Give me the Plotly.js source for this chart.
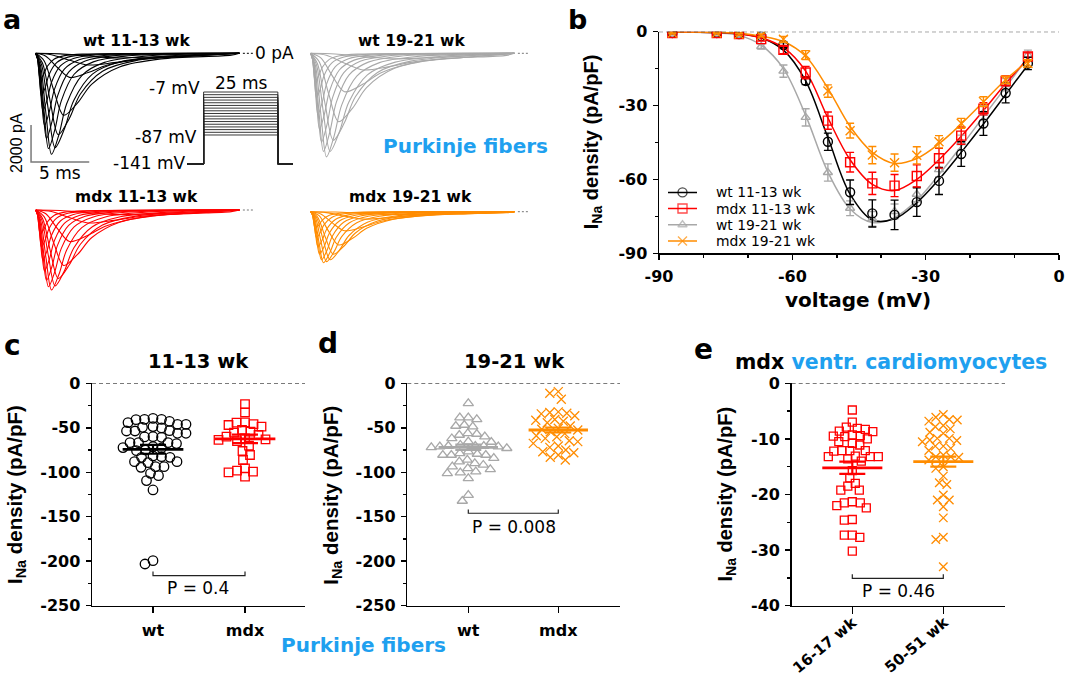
<!DOCTYPE html>
<html><head><meta charset="utf-8">
<script src="https://cdn.plot.ly/plotly-3.0.1.min.js"></script>
<style>body{margin:0;background:#fff}#plot{width:1065px;height:680px}</style>
</head><body><div id="plot"></div>
<script>
// ================= DATA =================
// Panel a: voltage protocol steps (mV) and example current traces
const protocolSteps = [-87,-82,-77,-72,-67,-62,-57,-52,-47,-42,-37,-32,-27,-22,-17,-12,-7];
const protocolHold = -141;
const protocolDurMs = 25;
const traceVoltages = [-67,-62,-57,-52,-47,-42,-37,-32,-27,-22,-17,-12,-7];
const tracePeakTimeMs = [7.0,4.5,2.9,2.4,1.94,1.67,1.36,1.1,0.93,0.76,0.62,0.5,0.4];
const traceHalfDecayMs = [6.0,4.5,3.2,2.4,1.9,1.6,1.3,1.1,0.95,0.85,0.75,0.65,0.6];
const ampWt1113 = [250,630,1300,3350,4400,5100,5460,5150,4600,3900,3100,2300,1400];
const ampWt1921 = [300,900,2080,3700,4700,5300,5600,5300,4800,4100,3300,2400,1500];
const ampMdx1113 = [250,700,1700,3000,3700,4100,4320,4150,3800,3300,2700,2000,1300];
const ampMdx1921 = [150,400,1030,1800,2300,2600,2700,2760,2600,2300,1900,1400,900];
// normalised shape (fraction of peak time / of half-decay time)
const riseFrac = [0,0.3,0.65,1];
const riseVal  = [0,0.12,0.6,1];
const decayMult = [0.5,1,2,3.5,6];
const decayVal  = [0.8,0.5,0.22,0.09,0.03];
const traceEndMs = 17.5;

// Panel b: I-V relationship
const ivVoltage = [-87,-77,-72,-67,-62,-57,-52,-47,-42,-37,-32,-27,-22,-17,-12,-7];
const wt1113Mean  = [-0.5,-0.5,-1,-1.8,-5.4,-20,-44.7,-65.2,-73.8,-74.4,-69.2,-60.6,-49.7,-37.3,-24.9,-12.9];
const wt1113Sem   = [0.3,0.3,0.4,0.6,1,1.5,3.5,5,5.5,6,5.8,5.5,5,4.8,4,2.5];
const mdx1113Mean = [-0.5,-0.5,-1,-3,-7.4,-16.6,-36.1,-53,-61.6,-62.5,-58.6,-51.4,-42.2,-31.3,-20,-10.1];
const mdx1113Sem  = [0.3,0.3,0.4,0.8,1.5,2.5,3.5,4,4.5,4.5,4.5,4,3.5,2.5,2,1.5];
const wt1921Mean  = [-0.5,-1,-1.5,-6,-16,-34.8,-57.2,-71.7,-76,-73,-66,-56,-45,-33,-21.5,-9.5];
const wt1921Sem   = [0.3,0.3,0.5,1,2.5,3.5,3.5,3,3,3,3,3,3,3,2.5,2];
const mdx1921Mean = [-0.5,-0.5,-1,-1.5,-3.1,-9.5,-24.1,-40.2,-50.1,-53.2,-50.2,-44.7,-37.2,-28.4,-19.6,-12.9];
const mdx1921Sem  = [0.3,0.3,0.4,0.6,1.2,1.8,2.5,3,3.5,3.5,3.5,2.5,2,2,1.5,1.5];
const wt1113Fit  = [-0.1,-0.3,-0.8,-2.5,-7.5,-20,-43,-66,-76.5,-76,-69.5,-60,-49,-37.5,-25.5,-13.5];
const mdx1113Fit = [-0.1,-0.3,-0.8,-2.5,-6.5,-16,-35,-52,-62,-64.5,-60,-52,-42.5,-32,-21,-11];
const wt1921Fit  = [-0.1,-0.5,-1.5,-5.5,-15,-34,-57,-72,-77.5,-75.5,-68.5,-58,-46.5,-34.5,-22.5,-10.5];
const mdx1921Fit = [-0.1,-0.2,-0.6,-1.8,-4,-10,-23,-38.5,-49,-53.5,-51.5,-45.5,-37.5,-28.5,-19.5,-12];
const ivLegend = ['wt 11-13 wk','mdx 11-13 wk','wt 19-21 wk','mdx 19-21 wk'];

// Panel c: 11-13 wk Purkinje fibers (pA/pF)
const cCategories = ['wt','mdx'];
const cWt = [-39.4,-40.5,-42.7,-40.9,-40.5,-44.2,-49.5,-46.1,-46.1,-48.7,-50.2,-56.2,-53.6,-53.6,-53.2,-56.2,-60.7,-60.3,-60,-66.7,-67.8,-66.7,-66.7,-71.2,-72.7,-75,-72.3,-75.7,-83.2,-82.5,-81.7,-83.2,-88.1,-89.2,-88.1,-93.7,-94.5,-93.7,-103.8,-101.2,-109.4,-119.9,-199.4,-203.1];
const cMdx = [-23.3,-32.6,-43.9,-44.2,-45.8,-46.9,-48.7,-52.5,-54.4,-55.5,-58.1,-60,-61.9,-63,-63.7,-65,-70.1,-76.1,-80.6,-86.2,-95.6,-98.2,-99.3,-100.1,-104.9];
const cMean = [-74.2,-62.5];
const cSem = [5,4.8];
const cP = 'P = 0.4';
// Panel d: 19-21 wk
const dCategories = ['wt','mdx'];
const dWt = [-22.5,-38.6,-38.6,-40.5,-46.9,-48,-48.7,-56.2,-57,-58.1,-60,-62,-65.6,-66,-69.3,-70.5,-70.5,-70.5,-71.2,-71.2,-72,-73,-76.8,-78.7,-79.5,-80.6,-80.6,-80.6,-84,-86,-88.1,-90,-91.8,-93.7,-95.6,-96.7,-99.3,-100.4,-101.2,-106.8,-125.6,-132.3];
const dMdx = [-9.4,-11.2,-18,-32.1,-32.8,-33.6,-34.4,-36.5,-40.6,-41.6,-42.6,-44.4,-48,-50.6,-51.6,-52.5,-54.3,-56.6,-58.9,-60,-61.9,-64.5,-65.6,-67.5,-70.5,-72,-75,-76.9,-78,-80.6,-83.2,-86.2];
const dMean = [-72,-52.5];
const dSem = [3,2.8];
const dP = 'P = 0.008';
// Panel e: mdx ventricular cardiomyocytes
const eCategories = ['16-17 wk','50-51 wk'];
const eYoung = [-4.8,-7.0,-8.6,-8.3,-8.1,-7.9,-8.7,-9.5,-9.6,-9.4,-9.3,-10.0,-10.5,-10.8,-11.1,-12.2,-12.1,-12.1,-12.1,-13.2,-13.2,-13.2,-13.1,-14.0,-13.6,-15.7,-17.0,-18.0,-18.5,-19.2,-19.2,-21.5,-21.3,-21.5,-22.0,-22.4,-24.6,-24.5,-27.3,-27.3,-27.7,-30.2];
const eOld = [-5.6,-6.1,-7.6,-6.8,-6.6,-6.5,-7.8,-8.2,-8.8,-9.0,-10.3,-10.2,-10.5,-9.9,-9.9,-11.3,-11.3,-11.7,-12.1,-12.9,-13.2,-13.3,-13.2,-13.8,-15.0,-15.3,-16.7,-17.9,-18.2,-20.1,-21.0,-21.0,-22.2,-24.2,-27.7,-28.1,-33.0];
const eMean = [-15.2,-14.1];
const eSem = [1.1,0.9];
const eP = 'P = 0.46';

const ivTicks = [-90,-60,-30,0];
const ivTickText = ['-90','-60','-30','0'];
const pfTicks = [0,-50,-100,-150,-200,-250];
const pfTickText = ['0','-50','-100','-150','-200','-250'];
const cmTicks = [0,-10,-20,-30,-40];
const cmTickText = ['0','-10','-20','-30','-40'];

// ================= STYLE / LAYOUT =================
const W = 1065, H = 680;
const fx = p => p / W, fy = p => 1 - p / H;
const BLACK='#000000', RED='#ff0000', GRAY='#a8a8a8', ORANGE='#ff8c00', BLUE='#1ea0ef';
const FH = 'DejaVu Sans, sans-serif';
const FR = 'Liberation Sans, Arial, sans-serif';

const traces = [];
const shapes = [];
const annotations = [];

function ann(text, x, y, size, o) {
  o = o || {};
  annotations.push(Object.assign({
    text: text, x: fx(x), y: fy(y), xref: 'paper', yref: 'paper',
    xanchor: 'center', yanchor: 'middle', showarrow: false,
    font: {family: o.family || FH, size: size, color: o.color || BLACK}
  }, o.extra || {}));
}

// ---- Panel a traces ----
function addTraceGroup(amps, color, xa, ya, dotColor, lw) {
  amps.forEach((amp, k) => {
    const tp = tracePeakTimeMs[k], hd = traceHalfDecayMs[k];
    const t = [], y = [];
    riseFrac.forEach((r, j) => { t.push(r * tp); y.push(-amp * riseVal[j]); });
    decayMult.forEach((m, j) => { const tt = tp + m * hd; if (tt < traceEndMs - 0.3) { t.push(tt); y.push(-amp * decayVal[j]); } });
    t.push(traceEndMs); y.push(0);
    traces.push({x: t, y: y, xaxis: xa, yaxis: ya, mode: 'lines', type: 'scatter',
      line: {color: color, width: lw, shape: 'spline', smoothing: 0.9}, hoverinfo: 'skip', showlegend: false});
  });
  traces.push({x: [traceEndMs + 0.3, traceEndMs + 1.2], y: [0, 0], xaxis: xa, yaxis: ya, mode: 'lines',
    line: {color: dotColor, width: 1, dash: '2px,2px'}, showlegend: false, hoverinfo: 'skip'});
}
addTraceGroup(ampWt1113, BLACK, 'x', 'y', BLACK, 1.1);
addTraceGroup(ampWt1921, GRAY, 'x2', 'y2', '#777', 1.1);
addTraceGroup(ampMdx1113, RED, 'x3', 'y3', '#777', 1.1);
addTraceGroup(ampMdx1921, ORANGE, 'x4', 'y4', '#777', 1.1);
// scale bar (5 ms, 2000 pA)
traces.push({x: [-0.4, -0.4, 4.6], y: [-3876, -3876 - 2000, -3876 - 2000], xaxis: 'x', yaxis: 'y', mode: 'lines',
  line: {color: '#7a7a7a', width: 1.5}, showlegend: false, hoverinfo: 'skip'});
// protocol
protocolSteps.forEach(v => {
  traces.push({x: [-5.42, 0, 0, protocolDurMs, protocolDurMs, 30.07], y: [protocolHold, protocolHold, v, v, protocolHold, protocolHold],
    xaxis: 'x5', yaxis: 'y5', mode: 'lines', line: {color: '#222', width: 0.9}, showlegend: false, hoverinfo: 'skip'});
});

// ---- Panel b ----
const ivSeries = [
  {m: wt1921Mean, s: wt1921Sem, f: wt1921Fit, c: GRAY, sym: 'triangle-up-open', sz: 8},
  {m: wt1113Mean, s: wt1113Sem, f: wt1113Fit, c: BLACK, sym: 'circle-open', sz: 9},
  {m: mdx1113Mean, s: mdx1113Sem, f: mdx1113Fit, c: RED, sym: 'square-open', sz: 9},
  {m: mdx1921Mean, s: mdx1921Sem, f: mdx1921Fit, c: ORANGE, sym: 'x-thin-open', sz: 9},
];
ivSeries.forEach(sr => {
  traces.push({x: ivVoltage, y: sr.f, xaxis: 'x6', yaxis: 'y6', mode: 'lines',
    line: {color: sr.c, width: 1.5, shape: 'spline', smoothing: 1}, showlegend: false, hoverinfo: 'skip'});
});
ivSeries.forEach(sr => {
  traces.push({x: ivVoltage, y: sr.m, xaxis: 'x6', yaxis: 'y6', mode: 'markers',
    marker: {symbol: sr.sym, size: sr.sz, color: sr.c, line: {color: sr.c, width: 1.4}},
    error_y: {type: 'data', array: sr.s, visible: true, color: sr.c, thickness: 1.4, width: 4},
    showlegend: false, hoverinfo: 'skip'});
});
// manual legend for panel b
const legStyle = [
  {c: BLACK, sym: 'circle-open', sz: 9},
  {c: RED, sym: 'square-open', sz: 9},
  {c: GRAY, sym: 'triangle-up-open', sz: 8},
  {c: ORANGE, sym: 'x-thin-open', sz: 9},
];
const legRowsPx = [192.4, 208.6, 224.7, 240.9];
ivLegend.forEach((name, i) => {
  const st = legStyle[i];
  traces.push({x: [0, 0.5, 1], y: [i, i, i], xaxis: 'x7', yaxis: 'y7', mode: 'lines+markers',
    line: {color: st.c, width: 1.5},
    marker: {symbol: st.sym, size: [0, st.sz, 0], color: st.c, line: {color: st.c, width: 1.4}},
    showlegend: false, hoverinfo: 'skip'});
  ann(name, 714, legRowsPx[i], 13.9, {extra: {xanchor: 'left'}});
});

// ---- Panels c, d, e: swarm scatter ----
function swarm(vals, pxPerVal, minDist) {
  const order = vals.map((v, i) => i).sort((a, b) => vals[b] - vals[a]);
  const placed = [], off = new Array(vals.length);
  order.forEach(i => {
    const y = vals[i] * pxPerVal;
    let best = 0;
    for (let k = 0; k < 600; k++) {
      const cand = (k % 2 === 0 ? 1 : -1) * Math.ceil(k / 2) * 0.5;
      if (placed.every(p => (p.x - cand) * (p.x - cand) + (p.y - y) * (p.y - y) >= minDist * minDist)) { best = cand; break; }
    }
    placed.push({x: best, y: y});
    off[i] = best;
  });
  return off;
}
function addScatter(vals, cat, pxPerVal, pxPerCat, color, sym, size, minDist, xa, ya) {
  const off = swarm(vals, pxPerVal, minDist);
  traces.push({x: off.map(o => cat + o / pxPerCat), y: vals, xaxis: xa, yaxis: ya, mode: 'markers', type: 'scatter',
    marker: {symbol: sym, size: size, color: color, line: {color: color, width: 1.3}}, showlegend: false, hoverinfo: 'skip', cliponaxis: false});
}
function addMean(means, sems, colors, xa, ya) {
  means.forEach((m, i) => {
    traces.push({x: [i - 0.33, i + 0.33], y: [m, m], xaxis: xa, yaxis: ya, mode: 'lines',
      line: {color: colors[i], width: 2.8}, showlegend: false, hoverinfo: 'skip'});
    traces.push({x: [i], y: [m], xaxis: xa, yaxis: ya, mode: 'markers', marker: {size: 1, color: 'rgba(0,0,0,0)'},
      error_y: {type: 'data', array: [sems[i]], visible: true, color: colors[i], thickness: 2.2, width: 13},
      showlegend: false, hoverinfo: 'skip'});
  });
}
const pfPx = 222.4 / 250, cmPx = 222.4 / 40;
addScatter(cWt, 0, pfPx, 92, BLACK, 'circle-open', 9.5, 8.2, 'x8', 'y8');
addScatter(cMdx, 1, pfPx, 92, RED, 'square-open', 8.5, 8.2, 'x8', 'y8');
addMean(cMean, cSem, [BLACK, RED], 'x8', 'y8');
addScatter(dWt, 0, pfPx, 90, GRAY, 'triangle-up-open', 9, 8.2, 'x9', 'y9');
addScatter(dMdx, 1, pfPx, 90, ORANGE, 'x-thin-open', 9, 8.2, 'x9', 'y9');
addMean(dMean, dSem, [GRAY, ORANGE], 'x9', 'y9');
addScatter(eYoung, 0, cmPx, 91, RED, 'square-open', 8, 7.6, 'x10', 'y10');
addScatter(eOld, 1, cmPx, 91, ORANGE, 'x-thin-open', 8.5, 7.6, 'x10', 'y10');
addMean(eMean, eSem, [RED, ORANGE], 'x10', 'y10');

// zero dashed lines and P brackets
[['x6', 'y6'], ['x8', 'y8'], ['x9', 'y9'], ['x10', 'y10']].forEach(([xa, ya]) => {
  shapes.push({type: 'line', xref: xa + ' domain', yref: ya, x0: 0, x1: 1, y0: 0, y1: 0,
    line: {color: '#222', width: 1, dash: '4px,3px'}});
});
function bracket(xa, ya, yb, yt) {
  shapes.push({type: 'path', xref: xa, yref: ya, path: `M 0,${yt} L 0,${yb} L 1,${yb} L 1,${yt}`, line: {color: '#222', width: 1.2}});
}
bracket('x8', 'y8', -216.3, -211.6);
bracket('x9', 'y9', -146.1, -141.9);
bracket('x10', 'y10', -35.07, -34.35);

// ---- Annotations ----
const B = t => '<b>' + t + '</b>';
ann(B('a'), 11.6, 19, 27);
ann(B('b'), 577, 19, 27);
ann(B('c'), 12.5, 345, 28);
ann(B('d'), 328, 343, 28);
ann(B('e'), 703, 350, 28);
ann(B('wt 11-13 wk'), 136, 40.5, 15.5);
ann(B('wt 19-21 wk'), 411, 40.5, 15.5);
ann(B('mdx 11-13 wk'), 136.3, 196.7, 15.5);
ann(B('mdx 19-21 wk'), 410.7, 196.7, 15.5);
ann('0 pA', 253, 53.5, 17, {extra: {xanchor: 'left'}});
ann('-7 mV', 202, 88, 17, {extra: {xanchor: 'right'}});
ann('25 ms', 241, 83, 17);
ann('-87 mV', 198.5, 137, 17, {extra: {xanchor: 'right'}});
ann('-141 mV', 187.5, 162.7, 17, {extra: {xanchor: 'right'}});
ann('5 ms', 60.4, 173, 17);
ann('2000 pA', 16, 143, 16, {family: FR, extra: {textangle: -90}});
ann(B('Purkinje fibers'), 465.4, 146, 20, {color: BLUE});
ann(B('Purkinje fibers'), 363, 645, 20, {color: BLUE});
const yTitle = B('I<sub>Na</sub> density (pA/pF)');
ann(yTitle, 592.5, 141.7, 20, {family: FR, extra: {textangle: -90}});
ann(yTitle, 16, 495, 20.5, {family: FR, extra: {textangle: -90}});
ann(yTitle, 331.7, 495, 20.5, {family: FR, extra: {textangle: -90}});
ann(yTitle, 725.5, 494, 20, {family: FR, extra: {textangle: -90}});
ann(B('voltage (mV)'), 858, 300, 20);
ann(B('11-13 wk'), 198, 361.7, 19.5);
ann(B('19-21 wk'), 514, 361.7, 19.5);
ann(B('mdx <span style="color:' + BLUE + '">ventr. cardiomyocytes</span>'), 890.8, 362, 20.5);
ann(cP, 198.3, 587.7, 17);
ann(dP, 514, 526.7, 17);
ann(eP, 898, 591, 17);
// rotated category labels of panel e
ann(B(eCategories[0]), 825, 645, 15, {extra: {textangle: -40}});
ann(B(eCategories[1]), 916.5, 645, 15, {extra: {textangle: -40}});

// ---- Axes ----
const tickFont = {family: FH, size: 16, color: BLACK, weight: 'bold'};
function ax(extra) {
  return Object.assign({showline: true, linecolor: BLACK, linewidth: 1.5, ticks: 'outside', ticklen: 5, tickwidth: 1.5,
    tickcolor: BLACK, showgrid: false, zeroline: false, tickfont: tickFont, fixedrange: true, ticklabelstandoff: 2}, extra);
}
function hid(extra) { return Object.assign({visible: false, fixedrange: true, showgrid: false, zeroline: false}, extra); }
const aX = [-0.747, 19.27];
const aY = [-(170 - 53.3) / 0.0185, (53.3 - 43) / 0.0185];
const layout = {
  width: W, height: H, margin: {l: 0, r: 0, t: 0, b: 0}, paper_bgcolor: '#fff', plot_bgcolor: 'rgba(0,0,0,0)',
  showlegend: false, hovermode: false,
  xaxis:  hid({domain: [fx(27), fx(260)], range: aX, anchor: 'y'}),
  yaxis:  hid({domain: [fy(170), fy(43)], range: aY, anchor: 'x'}),
  xaxis2: hid({domain: [fx(302), fx(535)], range: aX, anchor: 'y2'}),
  yaxis2: hid({domain: [fy(170), fy(43)], range: aY, anchor: 'x2'}),
  xaxis3: hid({domain: [fx(27), fx(260)], range: aX, anchor: 'y3'}),
  yaxis3: hid({domain: [fy(326.7), fy(199.7)], range: aY, anchor: 'x3'}),
  xaxis4: hid({domain: [fx(302), fx(535)], range: aX, anchor: 'y4'}),
  yaxis4: hid({domain: [fy(328.4), fy(201.4)], range: aY, anchor: 'x4'}),
  xaxis5: hid({domain: [fx(180), fx(300)], range: [-7.95, 32.46], anchor: 'y5'}),
  yaxis5: hid({domain: [fy(172), fy(85)], range: [-141 - 8 / 0.5375, -7 + 7 / 0.5375], anchor: 'x5'}),
  xaxis6: ax({domain: [fx(659), fx(1059)], range: [-90, 0], anchor: 'y6', tickmode: 'array', tickvals: ivTicks, ticktext: ivTickText,
    ticklabelstandoff: 3, minor: {tickmode: 'linear', tick0: 0, dtick: 10, ticks: 'outside', ticklen: 3, tickwidth: 1.5, tickcolor: BLACK, showgrid: false}}),
  yaxis6: ax({domain: [fy(253.3), fy(31.7)], range: [-90, 0], anchor: 'x6', tickmode: 'array', tickvals: ivTicks, ticktext: ivTickText,
    minor: {tickmode: 'linear', tick0: 0, dtick: 15, ticks: 'outside', ticklen: 3, tickwidth: 1.5, tickcolor: BLACK, showgrid: false}}),
  xaxis7: hid({domain: [fx(668), fx(697)], range: [0, 1], anchor: 'y7'}),
  yaxis7: hid({domain: [fy(249), fy(184.3)], range: [3.5, -0.5], anchor: 'x7'}),
  xaxis8: ax({domain: [fx(92), fx(305)], range: [-0.663, 1.652], anchor: 'y8', tickmode: 'array', tickvals: [0, 1], ticktext: cCategories, ticklen: 6, ticklabelstandoff: 4}),
  yaxis8: ax({domain: [fy(605.7), fy(383.3)], range: [-250, 0], anchor: 'x8', tickmode: 'array', tickvals: pfTicks, ticktext: pfTickText,
    minor: {tickmode: 'linear', tick0: 0, dtick: 25, ticks: 'outside', ticklen: 3, tickwidth: 1.5, tickcolor: BLACK, showgrid: false}}),
  xaxis9: ax({domain: [fx(407.3), fx(620)], range: [-0.678, 1.686], anchor: 'y9', tickmode: 'array', tickvals: [0, 1], ticktext: dCategories, ticklen: 6, ticklabelstandoff: 4}),
  yaxis9: ax({domain: [fy(605.7), fy(383.3)], range: [-250, 0], anchor: 'x9', tickmode: 'array', tickvals: pfTicks, ticktext: pfTickText,
    minor: {tickmode: 'linear', tick0: 0, dtick: 25, ticks: 'outside', ticklen: 3, tickwidth: 1.5, tickcolor: BLACK, showgrid: false}}),
  xaxis10: ax({domain: [fx(791.7), fx(1005)], range: [-0.666, 1.678], anchor: 'y10', tickmode: 'array', tickvals: [0, 1], showticklabels: false, ticklen: 7}),
  yaxis10: ax({domain: [fy(605.7), fy(383.3)], range: [-40, 0], anchor: 'x10', tickmode: 'array', tickvals: cmTicks, ticktext: cmTickText,
    minor: {tickmode: 'linear', tick0: 0, dtick: 5, ticks: 'outside', ticklen: 3, tickwidth: 1.5, tickcolor: BLACK, showgrid: false}}),
  shapes: shapes, annotations: annotations
};
Plotly.newPlot('plot', traces, layout, {staticPlot: true, displayModeBar: false});
</script></body></html>
